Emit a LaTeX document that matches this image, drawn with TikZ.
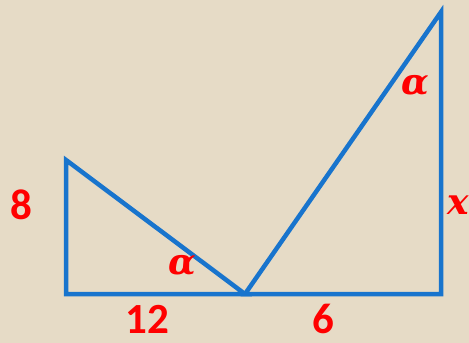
\documentclass[tikz,border=0pt]{standalone}
\usepackage{fontspec}
\setmainfont{Carlito}
\newfontfamily\greekfont{DejaVu Serif}
\usepackage{tikz}
\usetikzlibrary{positioning, calc}
\definecolor{paper}{RGB}{230, 219, 198}
\definecolor{edgeblue}{RGB}{24, 116, 205}
\definecolor{labelred}{RGB}{255, 0, 0}
\tikzset{
  side/.style={draw=edgeblue, line width=4.5pt, line join=miter},
  lbl/.style={text=labelred, font=\fontsize{43}{43}\selectfont\bfseries, inner sep=0pt},
  ang/.style={text=labelred, font=\greekfont\fontsize{36}{36}\selectfont\bfseries\itshape, inner sep=0pt}
}

\begin{document}
\begin{tikzpicture}[x=1pt, y=-1pt]
\fill[paper] (0,0) rectangle (469,343);
\useasboundingbox (0,0) rectangle (469,343);
% corners
\coordinate (lt) at (66,160);
\coordinate (lb) at (66,294);
\coordinate (mid) at (245,294);
\coordinate (rb) at (441,294);
\coordinate (rt) at (441,12);
% triangles
\draw[side] (lt) -- (lb) -- (mid) -- cycle;
\draw[side] (mid) -- (rb) -- (rt) -- cycle;
% labels
\node[lbl] (eight) at (21,205) {8};
\node[lbl] (twelve) at (147,319) {12};
\node[lbl] (six) at (323,319) {6};
\node[ang] (alphaL) at (182,266) {α};
\node[ang] (alphaR) at (415,86) {α};
\node[ang] (xlbl) at (458,205) {x};
\end{tikzpicture}
\end{document}
